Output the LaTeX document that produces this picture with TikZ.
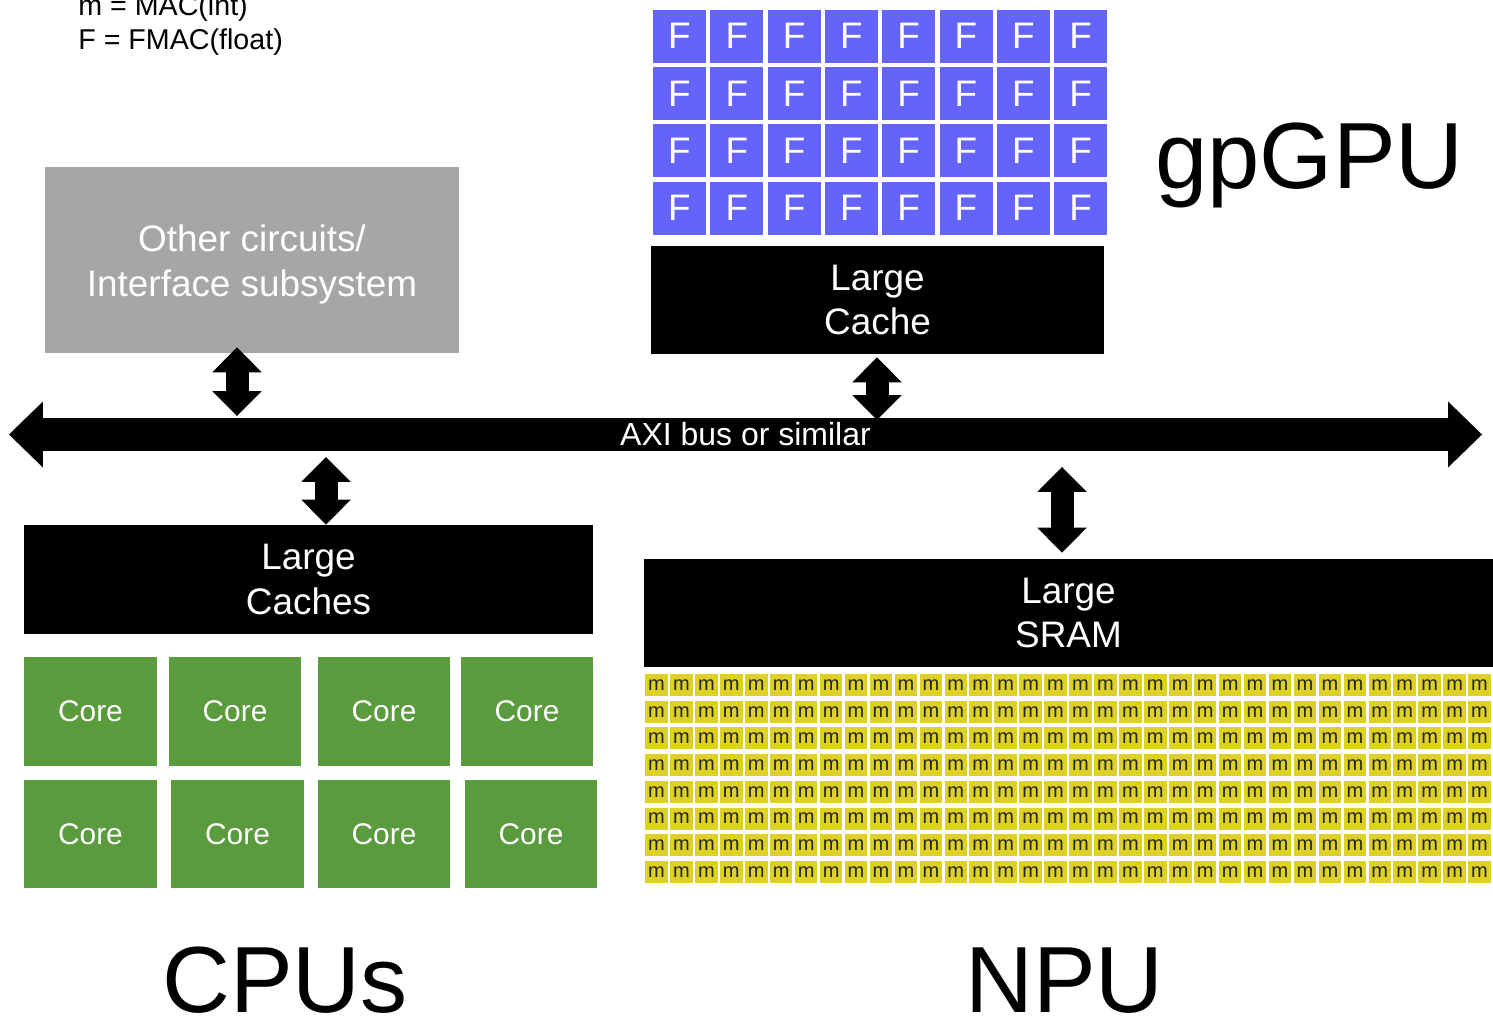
\documentclass[tikz,border=0pt]{standalone}
\usepackage{fontspec}
\setmainfont{Liberation Sans}
\usetikzlibrary{arrows.meta,calc}

\definecolor{fmacblue}{RGB}{100,100,250}
\definecolor{macyellow}{RGB}{221,209,38}
\definecolor{coregreen}{RGB}{90,155,62}
\definecolor{boxgray}{RGB}{166,166,166}

\tikzset{
  blockbox/.style={fill=black, text=white, inner sep=0pt, align=center,
    font=\fontsize{21}{25.5}\selectfont},
  corebox/.style={fill=coregreen, text=white, inner sep=0pt,
    minimum width=2.65cm, minimum height=2.17cm, font=\fontsize{17}{20}\selectfont},
  fmacbox/.style={fill=fmacblue, text=white, inner sep=0pt,
    minimum size=1.06cm, font=\fontsize{21}{25}\selectfont},
  macbox/.style={fill=macyellow, text=black!85, inner sep=0pt,
    minimum width=0.45cm, minimum height=0.44cm, font=\fontsize{11.4}{13}\selectfont},
  legendtext/.style={anchor=base west, inner sep=0pt, font=\fontsize{16.3}{19}\selectfont},
  bigtitle/.style={anchor=base west, inner sep=0pt, font=\fontsize{53.5}{60}\selectfont},
  buslabel/.style={text=white, inner sep=0pt, outer sep=0pt, minimum height=0.66cm,
    font=\fontsize{18.2}{21}\selectfont},
  busarrow/.style={line width=0.66cm,
    {Triangle[length=0.68cm,width=1.32cm,line width=0pt]}-{Triangle[length=0.68cm,width=1.32cm,line width=0pt]}},
  linkarrow/.style={line width=0.46cm,
    {Triangle[length=0.5cm,width=0.99cm,line width=0pt]}-{Triangle[length=0.5cm,width=0.99cm,line width=0pt]}}
}

\begin{document}
\begin{tikzpicture}[x=0.02cm, y=-0.02cm]
\useasboundingbox (0,0) rectangle (1493,1017);
\clip (0,0) rectangle (1493,1017);

% legend
\node[legendtext] (legm) at (78,16) {m = MAC(int)};
\node[legendtext] (legf) at (78,50) {F = FMAC(float)};

% gpGPU
\foreach \i in {0,...,7}
  \foreach \j in {0,...,3}
    \node[fmacbox] (f\i-\j) at ({679.5+57.3*\i},{36.3+57.3*\j}) {F};
\node[blockbox, minimum width=9.06cm, minimum height=2.16cm] (cache) at (877.5,300) {Large\\Cache};
\node[bigtitle] (gpgpu) at (1155,188) {gpGPU};

% other circuits
\node[blockbox, fill=boxgray, minimum width=8.28cm, minimum height=3.72cm] (other) at (252,260) {\rule{0pt}{0.70cm}Other circuits/\\Interface subsystem};

% bus
\coordinate (busL) at (9,434.5);
\coordinate (busR) at (1482,434.5);
\draw[busarrow] (busL) -- (busR) node[midway, buslabel] (bus) {AXI bus or similar};

% CPUs
\node[blockbox, minimum width=11.38cm, minimum height=2.18cm] (caches) at (308.5,579.5) {Large\\Caches};
\foreach \cx/\cy [count=\k] in {90.5/711.5, 235/711.5, 384/711.5, 527/711.5,
                                90.5/834, 237.5/834, 384/834, 531/834}
  \node[corebox] (core\k) at (\cx,\cy) {Core};
\node[bigtitle] (cpus) at (162,1012) {CPUs};

% NPU
\node[blockbox, minimum width=16.98cm, minimum height=2.16cm] (sram) at (1068.5,613) {Large\\SRAM};
\foreach \i in {0,...,33}
  \foreach \j in {0,...,7}
    \node[macbox] (m\i-\j) at ({656.5+24.94*\i},{685+26.7*\j}) {m};
\node[bigtitle] (npu) at (965,1012) {NPU};

% links to the bus
\coordinate (xo) at (237,0);
\coordinate (xg) at (877,0);
\coordinate (xc) at (326,0);
\coordinate (xn) at (1062,0);
\draw[linkarrow] ($(other.south -| xo)+(0,-6)$) -- ($(bus.north -| xo)+(0,-2)$);
\draw[linkarrow] ($(cache.south -| xg)+(0,3)$) -- ($(bus.north -| xg)+(0,2)$);
\draw[linkarrow] ($(bus.south -| xc)+(0,6)$) -- (caches.north -| xc);
\draw[linkarrow] ($(bus.south -| xn)+(0,16)$) -- ($(sram.north -| xn)+(0,-6)$);
\end{tikzpicture}
\end{document}
